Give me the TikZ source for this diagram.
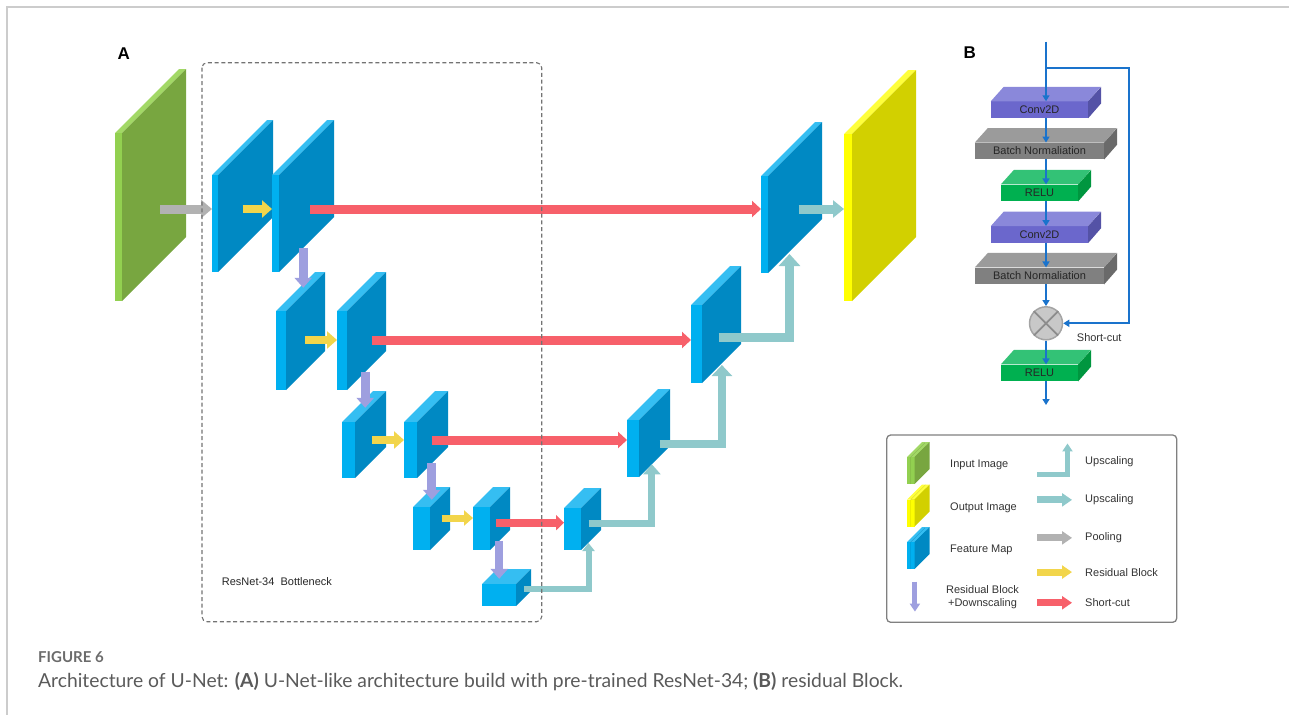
\documentclass[tikz,border=0pt]{standalone}
\usepackage{fontspec}
\setmainfont{Liberation Sans}
\newfontfamily\capfont{Lato}
\usetikzlibrary{arrows.meta}

% slab palettes: front / side / top
\definecolor{fmfront}{HTML}{00B0F0}
\definecolor{fmside}{HTML}{0089C3}
\definecolor{fmtop}{HTML}{35BEF2}
\definecolor{grfront}{HTML}{92D050}
\definecolor{grside}{HTML}{78A640}
\definecolor{grtop}{HTML}{A2D866}
\definecolor{yefront}{HTML}{FFFF00}
\definecolor{yeside}{HTML}{D2D000}
\definecolor{yetop}{HTML}{FFFF3C}
% residual block layers
\definecolor{cvfront}{HTML}{6B67CC}
\definecolor{cvside}{HTML}{5452A6}
\definecolor{cvtop}{HTML}{8A88DA}
\definecolor{bnfront}{HTML}{808080}
\definecolor{bnside}{HTML}{6A6A6A}
\definecolor{bntop}{HTML}{9B9B9B}
\definecolor{rlfront}{HTML}{00B050}
\definecolor{rlside}{HTML}{00963F}
\definecolor{rltop}{HTML}{33C276}
% arrows
\definecolor{poolgray}{HTML}{B2B2B2}
\definecolor{resyellow}{HTML}{F2D54B}
\definecolor{cutred}{HTML}{F7606A}
\definecolor{downlilac}{HTML}{9E9FDF}
\definecolor{upteal}{HTML}{8FC9CB}
\definecolor{flowblue}{HTML}{1A73CC}
\definecolor{sumgray}{HTML}{C8C8C8}
\definecolor{sumedge}{HTML}{A4A4A4}
\definecolor{capgray}{HTML}{5A5A5A}

\tikzset{
  blockarrow/.style n args={3}{line width=#1, -{Triangle[length=#2,width=#3]}},
  poolarr/.style={draw=poolgray, blockarrow={9pt}{11pt}{18pt}},
  resarr/.style={draw=resyellow, blockarrow={8pt}{10pt}{17pt}},
  cutarr/.style={draw=cutred, blockarrow={9pt}{9pt}{16pt}},
  downarr/.style={draw=downlilac, blockarrow={9pt}{10pt}{17pt}},
  uparr/.style={draw=upteal, blockarrow={9pt}{11pt}{17pt}},
  keyarr/.style={blockarrow={7pt}{10pt}{13pt}},
  flow/.style={draw=flowblue, line width=1.8pt, -{Triangle[length=6pt,width=7pt]}},
  lbl/.style={inner sep=0pt, text=black!80, font=\fontsize{11}{13}\selectfont},
  layer/.style={inner sep=0pt, minimum height=16.5pt, text=black!85,
    font=\fontsize{11}{13}\selectfont},
  panel/.style={inner sep=0pt, anchor=base west, font=\bfseries\fontsize{17}{20}\selectfont},
}

% \slab{name}{x}{y}{front width}{height}{depth}{palette}
\newcommand{\slab}[7]{%
  \fill[#7top] (#2,#3) -- ++(#6,-#6) -- ++(#4,0) -- ++(-#6,#6) -- cycle;
  \fill[#7front] (#2,#3) rectangle ++(#4,#5);
  \fill[#7side] (#2+#4,#3) -- ++(#6,-#6) -- ++(0,#5) -- ++(-#6,#6) -- cycle;
  \node[inner sep=0pt, minimum width=#4pt+#6pt, minimum height=#5pt+#6pt,
    anchor=south west] (#1) at (#2,#3+#5) {};
}
% \layerbox{name}{y}{width}{palette}{text}
\newcommand{\layerbox}[5]{%
  \node[layer, minimum width=#3pt, fill=#4front] (#1) at (1039.5,#2) {#5};
  \fill[#4top] (#1.north west) -- ++(13,-14.5) -- ++(#3,0) -- (#1.north east) -- cycle;
  \fill[#4side] (#1.north east) -- ++(13,-14.5) -- ++(0,16.5) -- (#1.south east) -- cycle;
}

\begin{document}
\begin{tikzpicture}[x=1pt, y=-1pt]
  \useasboundingbox (0,0) rectangle (1289,715);
  \draw[black!20, line width=1.5pt] (1289,7) -- (7,7) -- (7,715);

  % ---- A: U-Net ----
  \node[panel] (labA) at (117.3,59.3) {A};
  \slab{inimg}{115}{133}{7}{168}{64}{gr}
  \slab{e1a}{212}{175}{6}{97}{55}{fm}
  \slab{e1b}{272}{175}{7}{97}{55}{fm}
  \slab{e2a}{276}{311}{10}{79}{39}{fm}
  \slab{e2b}{337}{311}{10}{79}{39}{fm}
  \slab{e3a}{342}{422}{13}{56}{31}{fm}
  \slab{e3b}{404}{422}{13}{56}{31}{fm}
  \slab{e4a}{413}{507}{17}{43}{20}{fm}
  \slab{e4b}{473}{507}{17}{43}{20}{fm}
  \slab{neck}{482}{584}{34}{22}{15}{fm}
  \slab{d4}{564}{508}{17}{42}{20}{fm}
  \slab{d3}{627}{420}{12}{57}{31}{fm}
  \slab{d2}{691}{305}{11}{78}{39}{fm}
  \slab{d1}{761}{176}{7}{97}{54}{fm}
  \slab{outimg}{844}{134}{8}{167}{64}{ye}

  \coordinate (lv1) at (0,209);
  \coordinate (lv2) at (0,340);
  \coordinate (lv3) at (0,440);
  \coordinate (lv4) at (0,518);
  \coordinate (lv4r) at (0,522.7);

  % pooling and residual blocks
  \draw[poolarr] (inimg.center |- lv1) ++(9.5,0) -- (e1a.west |- lv1);
  \draw[resarr] (e1a.center |- lv1) -- (e1b.west |- lv1);
  \draw[resarr] (e2a.center |- lv2) ++(4.5,0) -- (e2b.west |- lv2);
  \draw[resarr] (e3a.center |- lv3) ++(8,0) -- (e3b.west |- lv3);
  \draw[resarr, blockarrow={7pt}{9pt}{15pt}] (e4a.center |- lv4) ++(10,0) -- (e4b.west |- lv4);
  % short-cuts
  \draw[cutarr] (e1b.center |- lv1) ++(7,0) -- (d1.west |- lv1);
  \draw[cutarr] (e2b.center |- lv2) ++(10.5,0) -- (d2.west |- lv2);
  \draw[cutarr] (e3b.center |- lv3) ++(6,0) -- (d3.west |- lv3);
  \draw[cutarr, blockarrow={8pt}{8pt}{15pt}] (e4b.center |- lv4r) ++(4.5,0) -- (d4.west |- lv4r);
  % downscaling
  \draw[downarr] (e1b.center) ++(0,52) -- ++(0,40);
  \draw[downarr] (e2b.center) ++(3.5,41) -- ++(0,36);
  \draw[downarr] (e3b.center) ++(5.5,29) -- ++(0,36.5);
  \draw[downarr, blockarrow={8pt}{10pt}{17pt}] (e4b.center) ++(7.5,22.5) -- ++(0,38);
  % upscaling
  \draw[uparr, blockarrow={6pt}{8pt}{12pt}] (neck.center) ++(17.5,1.5) -| ([xshift=5.8pt,yshift=7pt]d4.south);
  \draw[uparr, blockarrow={7pt}{10pt}{17pt}] (d4.center) ++(6,5) -| ([xshift=3.2pt,yshift=12.7pt]d3.south);
  \draw[uparr, blockarrow={7.5pt}{11pt}{20pt}] (d3.center) ++(10.8,11) -| ([xshift=5.7pt,yshift=18pt]d2.south);
  \draw[uparr, blockarrow={9pt}{12pt}{21pt}] (d2.center) ++(2.3,13) -| ([xshift=-2.2pt,yshift=19pt]d1.south);
  \draw[uparr] (d1.center |- lv1) ++(7,0) -- (outimg.west |- lv1);

  \draw[black!55, line width=1.1pt, dash pattern=on 4pt off 2.7pt, rounded corners=5pt]
    (202,62.7) rectangle (541.7,621.7);
  \node[lbl, anchor=base west, text=black!85] (neckTxt) at (221.7,585) {ResNet-34\ \ Bottleneck};

  % ---- B: residual block ----
  \node[panel] (labB) at (963.3,58.3) {B};
  \layerbox{conv1}{109.7}{97}{cv}{Conv2D}
  \layerbox{bn1}{151}{129}{bn}{Batch Normaliation}
  \layerbox{relu1}{192.9}{77}{rl}{RELU}
  \layerbox{conv2}{234.5}{97}{cv}{Conv2D}
  \layerbox{bn2}{275.9}{129}{bn}{Batch Normaliation}
  \layerbox{relu2}{372.9}{77}{rl}{RELU}
  \node[circle, minimum size=33pt, inner sep=0pt, fill=sumgray, draw=sumedge, line width=1.5pt]
    (sum) at (1046,323.3) {};
  \draw[black!45, line width=1.8pt] (sum.north west) -- (sum.south east)
    (sum.north east) -- (sum.south west);
  \node[lbl, anchor=base west] (sumTxt) at (1076.7,341.7) {Short-cut};

  \coordinate (inlet) at (1046,41.7);
  \coordinate (split) at (1046,67.7);
  \coordinate (loop) at (1129.3,67.7);
  \coordinate (outlet) at (1046,405);
  \draw[flow] (inlet) -- (inlet |- conv1.north);
  \draw[flow] (inlet |- conv1.south) -- (inlet |- bn1.north);
  \draw[flow] (inlet |- bn1.south) -- (inlet |- relu1.north);
  \draw[flow] (inlet |- relu1.south) -- (inlet |- conv2.north);
  \draw[flow] (inlet |- conv2.south) -- (inlet |- bn2.north);
  \draw[flow] (inlet |- bn2.south) -- (sum);
  \draw[flow] (sum) -- (inlet |- relu2.north);
  \draw[flow] (inlet |- relu2.south) -- (outlet);
  \draw[flow] (split) -- (loop) |- (sum);

  % ---- legend ----
  \draw[black!50, line width=1.3pt, rounded corners=4pt] (886.7,435) rectangle (1176.7,622.3);
  \slab{keyIn}{907}{457}{3.5}{27}{15}{gr}
  \slab{keyInB}{911}{457}{3.5}{27}{15}{gr}
  \slab{keyOut}{907}{499.5}{3.5}{27}{15}{ye}
  \slab{keyOutB}{911}{499.5}{3.5}{27}{15}{ye}
  \slab{keyFm}{907}{542}{3.5}{27}{15}{fm}
  \slab{keyFmB}{911}{542}{3.5}{27}{15}{fm}
  \node[lbl, anchor=base west] (keyInTxt) at (950,467.5) {Input Image};
  \node[lbl, anchor=base west] (keyOutTxt) at (950,510) {Output Image};
  \node[lbl, anchor=base west] (keyFmTxt) at (950,552.5) {Feature Map};
  \node[lbl, align=center] (keyDownTxt) at (982.5,597.6) {Residual Block\\+Downscaling};
  \node[lbl, anchor=base west] (keyUpL) at (1085,464.3) {Upscaling};
  \node[lbl, anchor=base west] (keyUp) at (1085,502.7) {Upscaling};
  \node[lbl, anchor=base west] (keyPool) at (1085,540.7) {Pooling};
  \node[lbl, anchor=base west] (keyRes) at (1085,576) {Residual Block};
  \node[lbl, anchor=base west] (keyCut) at (1085,606.7) {Short-cut};

  \draw[uparr, blockarrow={5pt}{8pt}{10pt}] ([xshift=-48pt,yshift=-13pt]keyUpL.west) -| ++(30.5,-31);
  \draw[uparr, keyarr] ([xshift=-48pt]keyUp.west) -- ([xshift=-13pt]keyUp.west);
  \draw[poolarr, keyarr] ([xshift=-48pt]keyPool.west) -- ([xshift=-13pt]keyPool.west);
  \draw[resarr, keyarr] ([xshift=-48pt]keyRes.west) -- ([xshift=-13pt]keyRes.west);
  \draw[cutarr, keyarr] ([xshift=-48pt]keyCut.west) -- ([xshift=-13pt]keyCut.west);
  \draw[downarr, blockarrow={5pt}{8pt}{10pt}] ([xshift=-31pt,yshift=16pt]keyDownTxt.west)
    -- ([xshift=-31pt,yshift=-14pt]keyDownTxt.west);

  % ---- caption ----
  \node[inner sep=0pt, anchor=base west, text=capgray!90,
    font=\capfont\bfseries\fontsize{15}{18}\selectfont] (figNo) at (38,662.3) {FIGURE 6};
  \node[inner sep=0pt, anchor=base west, text=capgray,
    font=\capfont\fontsize{19.3}{23}\selectfont] (figCap) at (38,687.3)
    {Architecture of U-Net: \textbf{(A)} U-Net-like architecture build with pre-trained ResNet-34; \textbf{(B)} residual Block.};
\end{tikzpicture}
\end{document}
